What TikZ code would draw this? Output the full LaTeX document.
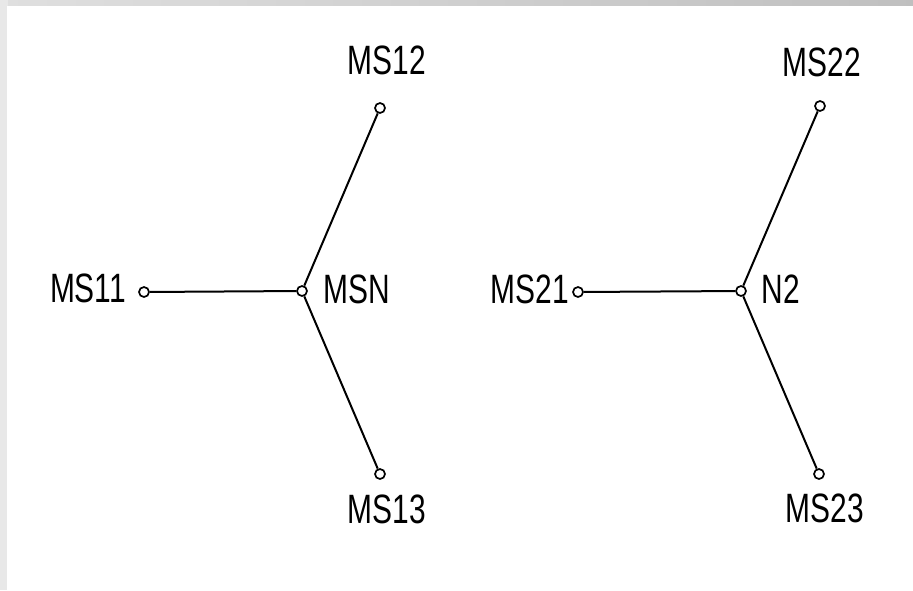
\documentclass[tikz,border=0pt]{standalone}
\usepackage{fontspec}
\setmainfont{Liberation Sans}[FakeStretch=0.73]
\begin{document}
\begin{tikzpicture}[x=1pt,y=-1pt,
  port/.style={circle,draw,line width=1.7pt,fill=white,inner sep=0pt,minimum size=10pt},
  tag/.style={inner sep=0pt,font=\fontsize{41}{48}\selectfont},
  link/.style={line width=2pt}]
\useasboundingbox (0,0) rectangle (913,590);
% textured frame behind the sheet
\shade[left color=gray!25,right color=gray!50] (0,0) rectangle (913,8);
\fill[gray!18] (0,0) rectangle (8,590);
\fill[white] (7,6) rectangle (913,590);

% first star
\node[port] (msn)  at (302,291) {};
\node[port] (ms11) at (144,292) {};
\node[port] (ms12) at (380,108) {};
\node[port] (ms13) at (380,474) {};
\draw[link] (ms11) -- (msn);
\draw[link] (msn) -- (ms12);
\draw[link] (msn) -- (ms13);
\node[tag] (tMSN)  at (357,289) {MSN};
\node[tag] (tMS11) at (88,288)  {MS11};
\node[tag] (tMS12) at (387,60)  {MS12};
\node[tag] (tMS13) at (387,509) {MS13};

% second star
\node[port] (n2)   at (741,291) {};
\node[port] (ms21) at (578,292) {};
\node[port] (ms22) at (820,106) {};
\node[port] (ms23) at (819,474) {};
\draw[link] (ms21) -- (n2);
\draw[link] (n2) -- (ms22);
\draw[link] (n2) -- (ms23);
\node[tag] (tN2)   at (781,289) {N2};
\node[tag] (tMS21) at (530,289) {MS21};
\node[tag] (tMS22) at (822,62)  {MS22};
\node[tag] (tMS23) at (825,508) {MS23};
\end{tikzpicture}
\end{document}
